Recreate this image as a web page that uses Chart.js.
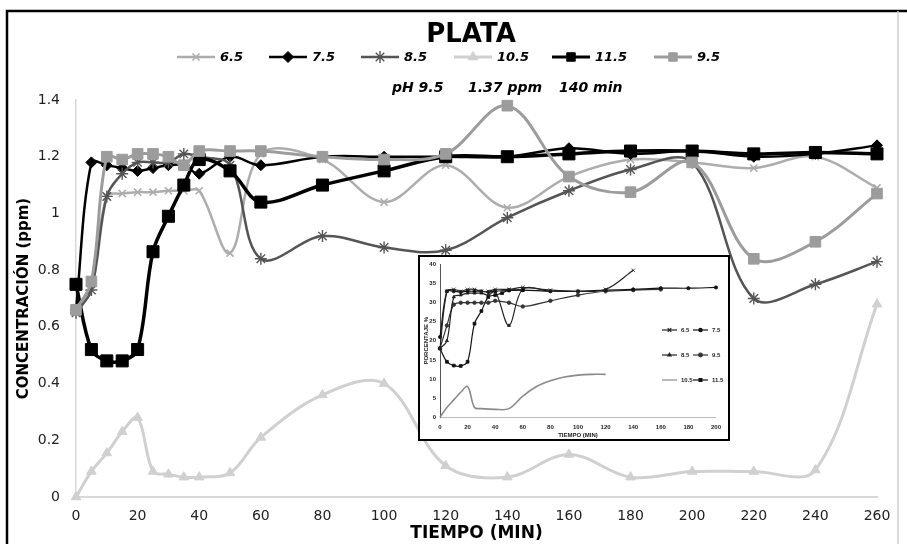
<!DOCTYPE html>
<html><head><meta charset="utf-8">
<script src="https://cdn.jsdelivr.net/npm/chart.js@4.4.0/dist/chart.umd.min.js"></script>
<style>
html,body{margin:0;padding:0;background:#fff;}
#wrap{position:relative;width:907px;height:544px;overflow:hidden;background:#fff;}
#main{position:absolute;left:0;top:0;}
#inset{position:absolute;left:418px;top:255px;width:312px;height:186px;background:#fff;border:2px solid #000;box-sizing:border-box;}
#ins{position:absolute;left:0;top:0;}
</style></head><body>
<div id="wrap">
<canvas id="main" width="907" height="544"></canvas>
<div id="inset"><canvas id="ins" width="308" height="182"></canvas></div>
</div>
<script>
// ---------- main chart data ----------
const times = [0,5,10,15,20,25,30,35,40,50,60,80,100,120,140,160,180,200,220,240,260];
const ph65  = [0.65,0.75,1.06,1.07,1.075,1.075,1.08,1.08,1.08,0.86,1.21,1.19,1.04,1.17,1.02,1.13,1.19,1.18,1.16,1.20,1.09];
const ph75  = [0.66,1.18,1.17,1.16,1.15,1.16,1.17,1.17,1.14,1.20,1.17,1.20,1.20,1.20,1.20,1.23,1.21,1.22,1.20,1.21,1.24];
const ph85  = [0.65,0.73,1.06,1.14,1.18,1.18,1.18,1.21,1.20,1.17,0.84,0.92,0.88,0.87,0.985,1.08,1.155,1.18,0.70,0.75,0.83];
const ph105 = [0.0,0.09,0.155,0.23,0.28,0.09,0.08,0.07,0.07,0.085,0.21,0.36,0.40,0.11,0.07,0.15,0.07,0.09,0.09,0.095,0.68];
const ph115 = [0.75,0.52,0.48,0.48,0.52,0.865,0.99,1.10,1.19,1.15,1.04,1.10,1.15,1.20,1.20,1.21,1.22,1.22,1.21,1.215,1.21];
const ph95  = [0.66,0.76,1.20,1.19,1.21,1.21,1.20,1.17,1.22,1.22,1.22,1.20,1.19,1.21,1.38,1.13,1.075,1.18,0.84,0.90,1.07];
const seriesLabels = ['6.5','7.5','8.5','10.5','11.5','9.5'];
const xTicks = [0,20,40,60,80,100,120,140,160,180,200,220,240,260];
const yTicks = [0,0.2,0.4,0.6,0.8,1,1.2,1.4];
const titleText = 'PLATA';
const subtitleParts = ['pH 9.5','1.37 ppm','140 min'];
const xTitle = 'TIEMPO (MIN)';
const yTitle = 'CONCENTRACIÓN (ppm)';

// ---------- inset data ----------
const insT65 = [0,5,10,15,20,25,30,35,40,50,60,80,100,120,140];
const ins65  = [18,33,33.5,33,33.5,33.5,33,33,33.5,33.5,34,33.3,33,33.5,38.5];
const insT75 = [0,5,10,15,20,25,30,35,40,50,60,80,100,120,140,160,180,200];
const ins75  = [21,33,33,32.8,33,33,33,32.8,33,33.2,33.3,33,33,33.3,33.5,33.8,33.8,34];
const insT85 = [0,5,10,15,20,25,30,35,40,50,60,80];
const ins85  = [18,20,31.5,32,32.5,32.5,32.5,32,33,24,33.5,33];
const insT95 = [0,5,10,15,20,25,30,35,40,50,60,80,100,120,140,160];
const ins95  = [18,24,29.5,30,30,30,30,30,30.5,30,29,30.5,32,33,33.3,33.5];
const insT105= [0,5,10,15,20,25,30,40,50,60,70,80,90,100,110,120];
const ins105 = [0,2.5,4.5,6.5,8,2.5,2.2,2,2.2,5.5,8,9.5,10.5,11,11.2,11.2];
const insT115= [0,5,10,15,20,25,30,35,40,45,50,60];
const ins115 = [18,14.5,13.5,13.4,14.5,24.5,27.8,31.5,32,32.5,33.3,33.3];
const insLabels = ['6.5','7.5','8.5','9.5','10.5','11.5'];
const insXTicks = [0,20,40,60,80,100,120,140,160,180,200];
const insYTicks = [0,5,10,15,20,25,30,35,40];

const F = '"DejaVu Sans", sans-serif';
const pts = (xs, ys) => xs.map((x,i)=>({x:x,y:ys[i]}));

const styles = [
  {c:'#adadad', ps:'crossRot', r:5,   bw:2.5, pbw:1.6},
  {c:'#000000', ps:'rectRot',  r:5.5, bw:2.5, pbw:1},
  {c:'#555555', ps:'star',     r:6,   bw:2.5, pbw:1.4},
  {c:'#d0d0d0', ps:'triangle', r:5.5, bw:3,   pbw:1},
  {c:'#000000', ps:'rect',     r:8.5, bw:3.5, pbw:1},
  {c:'#9c9c9c', ps:'rect',     r:7.5, bw:3,   pbw:1}
];
const mainVals = [ph65, ph75, ph85, ph105, ph115, ph95];
const orders = [6,5,4,3,2,1];

const datasets = mainVals.map((v,i)=>({
  label: seriesLabels[i],
  data: pts(times, v),
  borderColor: styles[i].c,
  backgroundColor: styles[i].c,
  pointBackgroundColor: styles[i].c,
  pointBorderColor: styles[i].c,
  pointStyle: styles[i].ps,
  pointRadius: styles[i].r,
  pointBorderWidth: styles[i].pbw,
  borderWidth: styles[i].bw,
  tension: 0.35,
  clip: false,
  order: orders[i]
}));

const legendX = [177,269,361,454,552,654];

const decor = {
  id:'decor',
  beforeDraw(chart){
    const ctx = chart.ctx;
    ctx.save();
    ctx.fillStyle='#fff';
    ctx.fillRect(0,0,chart.width,chart.height);
    ctx.restore();
  },
  afterDraw(chart){
    const ctx = chart.ctx;
    const ca = chart.chartArea;
    ctx.save();
    ctx.strokeStyle='#000'; ctx.lineWidth=2.5;
    ctx.beginPath(); ctx.moveTo(7,560); ctx.lineTo(7,11); ctx.lineTo(907,11); ctx.stroke();
    ctx.strokeStyle='#cfcfcf'; ctx.lineWidth=1.5;
    ctx.beginPath(); ctx.moveTo(898,11); ctx.lineTo(898,544); ctx.stroke();
    ctx.fillStyle='#000';
    ctx.textAlign='center'; ctx.textBaseline='middle';
    ctx.font='bold 26px '+F;
    ctx.fillText(titleText, 471, 35);
    ctx.font='italic bold 13px '+F;
    ctx.textAlign='left';
    legendX.forEach((lx,i)=>{
      const s = styles[i];
      const y = 57;
      ctx.strokeStyle=s.c; ctx.lineWidth=Math.min(s.bw,3);
      ctx.beginPath(); ctx.moveTo(lx,y); ctx.lineTo(lx+38,y); ctx.stroke();
      ctx.fillStyle=s.c; ctx.strokeStyle=s.c; ctx.lineWidth=s.pbw;
      Chart.helpers.drawPoint(ctx,{pointStyle:s.ps, radius:Math.min(s.r,6), borderWidth:s.pbw, rotation:0}, lx+19, y);
      ctx.fillStyle='#000';
      ctx.fillText(seriesLabels[i], lx+43, y+1);
    });
    ctx.font='italic bold 14px '+F;
    const sx=[392,468,559];
    subtitleParts.forEach((t,i)=>ctx.fillText(t, sx[i], 88));
    ctx.font='bold 17px '+F;
    ctx.textAlign='center';
    ctx.fillText(xTitle, (ca.left+ca.right)/2, 534);
    ctx.save();
    ctx.translate(24,(ca.top+ca.bottom)/2);
    ctx.rotate(-Math.PI/2);
    ctx.font='bold 15px '+F;
    ctx.fillText(yTitle,0,0);
    ctx.restore();
    ctx.restore();
  }
};

new Chart(document.getElementById('main'), {
  type:'line',
  data:{datasets},
  options:{
    responsive:false, animation:false, devicePixelRatio:1,
    layout:{padding:{left:0,right:30,top:100,bottom:0}},
    plugins:{legend:{display:false},title:{display:false},tooltip:{enabled:false}},
    scales:{
      x:{type:'linear',min:0,max:260,
        afterBuildTicks(s){s.ticks=xTicks.map(v=>({value:v}));},
        ticks:{color:'#222',font:{family:F,size:14},padding:11,maxRotation:0,callback:v=>String(v)},
        grid:{display:false,drawTicks:false},
        border:{display:true,color:'#d8d8d8',width:2},
        afterFit(s){s.height=47;}},
      y:{type:'linear',min:0,max:1.4,
        afterBuildTicks(s){s.ticks=yTicks.map(v=>({value:v}));},
        ticks:{color:'#222',font:{family:F,size:14},padding:16,callback:v=>String(Math.round(v*10)/10)},
        grid:{display:false,drawTicks:false},
        border:{display:true,color:'#d8d8d8',width:1.5},
        afterFit(s){s.width=76;}}
    }
  },
  plugins:[decor]
});

// ---------- inset chart ----------
const insSets = [
  {t:insT65,v:ins65,c:'#222',ps:'crossRot',r:2.5},
  {t:insT75,v:ins75,c:'#111',ps:'circle',r:1.6},
  {t:insT85,v:ins85,c:'#222',ps:'triangle',r:1.8},
  {t:insT95,v:ins95,c:'#333',ps:'circle',r:1.8},
  {t:insT105,v:ins105,c:'#8a8a8a',ps:false,r:0},
  {t:insT115,v:ins115,c:'#111',ps:'rect',r:2}
];
const insLegPos = [[242,73],[273,73],[242,98],[273,98],[242,123],[273,123]];
const insDecor = {
  id:'insDecor',
  beforeDraw(chart){const c=chart.ctx;c.save();c.fillStyle='#fff';c.fillRect(0,0,chart.width,chart.height);c.restore();},
  afterDraw(chart){
    const ctx=chart.ctx, ca=chart.chartArea;
    ctx.save();
    ctx.fillStyle='#222';
    ctx.font='bold 6px "Liberation Sans", sans-serif';
    ctx.textBaseline='middle';
    insLegPos.forEach((p,i)=>{
      const s=insSets[i];
      ctx.strokeStyle=s.c; ctx.lineWidth=1.2;
      ctx.beginPath(); ctx.moveTo(p[0],p[1]); ctx.lineTo(p[0]+15,p[1]); ctx.stroke();
      if(s.ps){ctx.fillStyle=s.c;Chart.helpers.drawPoint(ctx,{pointStyle:s.ps,radius:s.r,borderWidth:1,rotation:0},p[0]+7.5,p[1]);}
      ctx.fillStyle='#222'; ctx.textAlign='left';
      ctx.fillText(insLabels[i],p[0]+19,p[1]);
    });
    ctx.textAlign='center';
    ctx.fillText('TIEMPO (MIN)',(ca.left+ca.right)/2,178);
    ctx.translate(6,(ca.top+ca.bottom)/2);
    ctx.rotate(-Math.PI/2);
    ctx.fillText('PORCENTAJE %',0,0);
    ctx.restore();
  }
};
new Chart(document.getElementById('ins'), {
  type:'line',
  data:{datasets: insSets.map((s,i)=>({
    label:insLabels[i], data:pts(s.t,s.v), borderColor:s.c, backgroundColor:s.c,
    pointStyle:s.ps||'circle', pointRadius:s.r, pointBorderWidth:0.8, borderWidth:s.ps?1.2:1.6,
    tension:0.35, clip:false
  }))},
  options:{
    responsive:false, animation:false, devicePixelRatio:1,
    layout:{padding:{left:0,right:10,top:5,bottom:0}},
    plugins:{legend:{display:false},title:{display:false},tooltip:{enabled:false}},
    scales:{
      x:{type:'linear',min:0,max:200,
        afterBuildTicks(s){s.ticks=insXTicks.map(v=>({value:v}));},
        ticks:{color:'#222',font:{family:'"Liberation Sans", sans-serif',size:6,weight:'bold'},padding:7,maxRotation:0,callback:v=>String(v)},
        grid:{display:false,drawTicks:false},
        border:{display:true,color:'#bbb',width:1},
        afterFit(s){s.height=22;}},
      y:{type:'linear',min:0,max:40,
        afterBuildTicks(s){s.ticks=insYTicks.map(v=>({value:v}));},
        ticks:{color:'#222',font:{family:'"Liberation Sans", sans-serif',size:6,weight:'bold'},padding:4,callback:v=>String(v)},
        grid:{display:false,drawTicks:false},
        border:{display:true,color:'#555',width:1},
        afterFit(s){s.width=20;}}
    }
  },
  plugins:[insDecor]
});
</script>
</body></html>
